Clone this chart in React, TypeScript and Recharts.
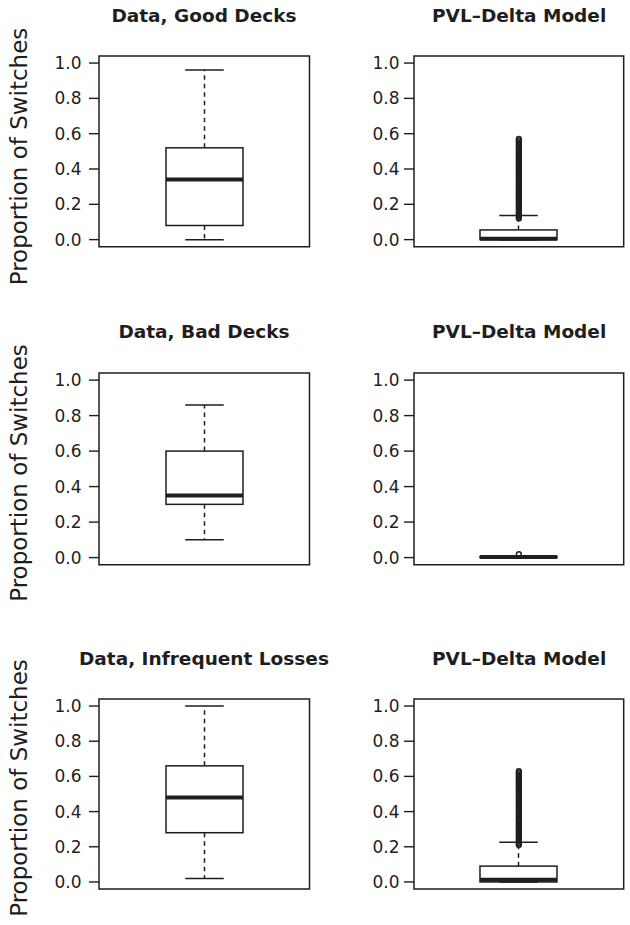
import React from 'react';
import { ComposedChart, Bar, Scatter, XAxis, YAxis, ReferenceArea } from 'recharts';

// ---------- data ----------
const panelTitles = [
  'Data, Good Decks',
  'PVL\u2013Delta Model',
  'Data, Bad Decks',
  'PVL\u2013Delta Model',
  'Data, Infrequent Losses',
  'PVL\u2013Delta Model',
];
const yAxisLabel = 'Proportion of Switches';
const yTicks = [0, 0.2, 0.4, 0.6, 0.8, 1.0];

const whiskerLow = [0.0, 0.0, 0.1, 0.0, 0.02, 0.0];
const quartile1 = [0.08, 0.0, 0.3, 0.0, 0.28, 0.0];
const medians = [0.34, 0.005, 0.35, 0.003, 0.48, 0.012];
const quartile3 = [0.52, 0.055, 0.6, 0.006, 0.66, 0.09];
const whiskerHigh = [0.96, 0.136, 0.86, 0.01, 1.0, 0.226];

const outliersGoodModel = [
  0.12, 0.13, 0.14, 0.15, 0.16, 0.17, 0.18, 0.19, 0.2, 0.21, 0.22, 0.23, 0.24, 0.25, 0.26,
  0.27, 0.28, 0.29, 0.3, 0.31, 0.32, 0.33, 0.34, 0.35, 0.36, 0.37, 0.38, 0.39, 0.4, 0.41,
  0.42, 0.43, 0.44, 0.45, 0.46, 0.47, 0.48, 0.49, 0.5, 0.51, 0.52, 0.53, 0.54, 0.55, 0.56, 0.57,
];
const outliersBadModel = [0.02];
const outliersInfrequentModel = [
  0.21, 0.22, 0.23, 0.24, 0.25, 0.26, 0.27, 0.28, 0.29, 0.3, 0.31, 0.32, 0.33, 0.34, 0.35,
  0.36, 0.37, 0.38, 0.39, 0.4, 0.41, 0.42, 0.43, 0.44, 0.45, 0.46, 0.47, 0.48, 0.49, 0.5,
  0.51, 0.52, 0.53, 0.54, 0.55, 0.56, 0.57, 0.58, 0.59, 0.6, 0.61, 0.62, 0.63,
];
const panelOutliers = [[], outliersGoodModel, [], outliersBadModel, [], outliersInfrequentModel];

// ---------- layout ----------
const INK = '#1e1e1e';
const FONT = '"DejaVu Sans", sans-serif';
const colLeft = [98.7, 414.3];
const colWidth = [210.5, 209.7];
const colTickMargin = [7.5, 4.5];
const rowTop = [56, 373.3, 699.3];
const rowHeight = [190.7, 191.7, 190];
const titleBaseline = [21.6, 338.3, 665];
const labelCenter = [156.5, 473, 788];
const AXIS_W = 60;
const M = 4;

function BoxShape(props: any) {
  const { x, y, width, height, payload } = props;
  const top = Math.min(y, y + height);
  const bot = Math.max(y, y + height);
  const lo = payload.low;
  const hi = payload.high;
  const px = (v: number) => bot - ((v - lo) / (hi - lo)) * (bot - top);
  const cx = x + width / 2;
  const capHalf = width / 4;
  const yLow = px(payload.low);
  const yQ1 = px(payload.q1);
  const yMed = px(payload.median);
  const yQ3 = px(payload.q3);
  const yHigh = px(payload.high);
  return (
    <g>
      <line x1={cx} x2={cx} y1={yQ3} y2={yHigh} stroke={INK} strokeWidth={1.5} strokeDasharray="4.5 4" />
      <line x1={cx} x2={cx} y1={yQ1} y2={yLow} stroke={INK} strokeWidth={1.5} strokeDasharray="4.5 4" />
      <line x1={cx - capHalf} x2={cx + capHalf} y1={yHigh} y2={yHigh} stroke={INK} strokeWidth={1.5} />
      <line x1={cx - capHalf} x2={cx + capHalf} y1={yLow} y2={yLow} stroke={INK} strokeWidth={1.5} />
      <rect x={x} y={yQ3} width={width} height={Math.max(yQ1 - yQ3, 0)} fill="none" stroke={INK} strokeWidth={1.5} />
      <line x1={x} x2={x + width} y1={yMed} y2={yMed} stroke={INK} strokeWidth={4} />
    </g>
  );
}

function OutlierShape(props: any) {
  const { cx, cy } = props;
  return <circle cx={cx} cy={cy} r={2.4} fill="none" stroke={INK} strokeWidth={1.5} />;
}

function Panel({ i }: { i: number }) {
  const col = i % 2;
  const row = Math.floor(i / 2);
  const plotW = colWidth[col];
  const plotH = rowHeight[row];
  const data = [
    {
      g: 'box',
      span: [whiskerLow[i], whiskerHigh[i]],
      low: whiskerLow[i],
      q1: quartile1[i],
      median: medians[i],
      q3: quartile3[i],
      high: whiskerHigh[i],
    },
  ];
  const outData = panelOutliers[i].map((v) => ({ g: 'box', v }));
  return (
    <div
      style={{
        position: 'absolute',
        left: colLeft[col] - AXIS_W,
        top: rowTop[row] - M,
      }}
    >
      <ComposedChart
        width={AXIS_W + plotW + M}
        height={plotH + 2 * M}
        data={data}
        margin={{ top: M, right: M, bottom: M, left: 0 }}
      >
        <XAxis dataKey="g" type="category" hide allowDuplicatedCategory={false} />
        <YAxis
          width={AXIS_W}
          type="number"
          domain={[-0.04, 1.04]}
          allowDataOverflow
          ticks={yTicks}
          tickFormatter={(v: number) => v.toFixed(1)}
          axisLine={false}
          tickSize={10}
          tickMargin={colTickMargin[col]}
          tickLine={{ stroke: INK, strokeWidth: 1.4 }}
          tick={{ fill: INK, fontSize: 17, fontFamily: FONT }}
        />
        <ReferenceArea y1={-0.04} y2={1.04} ifOverflow="visible" fill="none" stroke={INK} strokeWidth={1.5} />
        <Bar dataKey="span" barSize={77} shape={BoxShape} isAnimationActive={false} />
        {outData.length > 0 && (
          <Scatter data={outData} dataKey="v" shape={OutlierShape} isAnimationActive={false} />
        )}
      </ComposedChart>
    </div>
  );
}

export default function App() {
  const idx = [0, 1, 2, 3, 4, 5];
  return (
    <div
      style={{
        position: 'absolute',
        left: 0,
        top: 0,
        width: 630,
        height: 925,
        background: '#fff',
        overflow: 'hidden',
      }}
    >
      <svg width={630} height={925} style={{ position: 'absolute', left: 0, top: 0 }}>
        {idx.map((i) => {
          const col = i % 2;
          const row = Math.floor(i / 2);
          return (
            <text
              key={'t' + i}
              x={colLeft[col] + colWidth[col] / 2}
              y={titleBaseline[row]}
              textAnchor="middle"
              fontFamily={FONT}
              fontWeight="bold"
              fontSize={18.5}
              fill={INK}
            >
              {panelTitles[i]}
            </text>
          );
        })}
        {[0, 1, 2].map((row) => (
          <text
            key={'y' + row}
            x={26.5}
            y={labelCenter[row]}
            transform={`rotate(-90, 26.5, ${labelCenter[row]})`}
            textAnchor="middle"
            fontFamily={FONT}
            fontSize={23}
            fill={INK}
          >
            {yAxisLabel}
          </text>
        ))}
      </svg>
      {idx.map((i) => (
        <Panel key={i} i={i} />
      ))}
    </div>
  );
}
